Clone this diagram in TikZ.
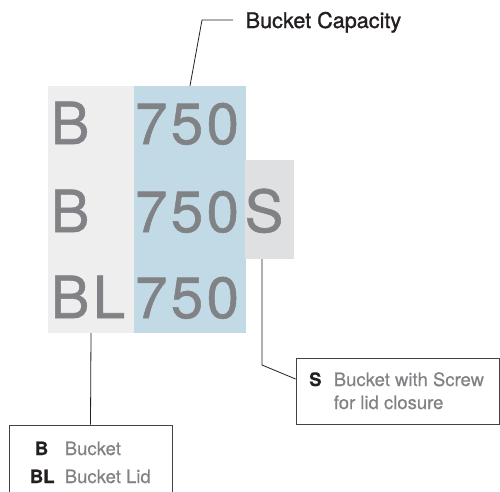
\documentclass[tikz,border=0pt]{standalone}
\usepackage{fontspec}
\setmainfont{TeX Gyre Heros}
\usetikzlibrary{positioning}

\definecolor{codegray}{HTML}{808285}
\definecolor{prefixbg}{HTML}{EEEEEE}
\definecolor{numberbg}{HTML}{C1DAE6}
\definecolor{suffixbg}{HTML}{DFE0E2}
\definecolor{inkdark}{HTML}{231F20}
\definecolor{legendgray}{HTML}{808285}

\begin{document}
\begin{tikzpicture}[x=1pt, y=-1pt,
  column/.style={rectangle, inner sep=0pt, draw=none},
  bigcode/.style={anchor=base west, inner sep=0pt, text=codegray,
    font=\fontsize{58}{60}\selectfont\addfontfeature{LetterSpace=6,FakeBold=0.9}},
  legendbox/.style={rectangle, draw=inkdark!85, line width=0.8pt, fill=white, inner sep=0pt},
  keyword/.style={anchor=base west, inner sep=0pt, text=inkdark, font=\fontsize{18.5}{22}\selectfont\bfseries\addfontfeature{FakeBold=0.5}},
  keytext/.style={anchor=base west, inner sep=0pt, text=legendgray, font=\fontsize{18.5}{22}\selectfont\addfontfeature{FakeBold=0.4}},
  leader/.style={draw=inkdark, line width=0.8pt}]
  \useasboundingbox (0,0) rectangle (500,491);

  % Columns of the code
  \node[column, fill=prefixbg, minimum width=86pt, minimum height=247pt] (pre) at (91,209.5) {};
  \node[column, fill=numberbg, minimum width=112pt, minimum height=247pt] (num) at (190,209.5) {};
  \node[column, fill=suffixbg, minimum width=49pt, minimum height=99pt] (suf) at (269.5,209.5) {};

  % Code letters
  \node[bigcode] (preA) at (50.5,144) {B};
  \node[bigcode] (numA) at (135,144) {750};
  \node[bigcode] (preB) at (50.5,232) {B};
  \node[bigcode] (numB) at (135,232) {750};
  \node[bigcode] (sufB) at (244.5,232) {S};
  \node[bigcode] (preC) at (50.5,318) {BL};
  \node[bigcode] (numC) at (135,318) {750};

  % Capacity label
  \node[anchor=base west, inner sep=0pt, text=inkdark, font=\fontsize{21.6}{24}\selectfont\addfontfeature{FakeBold=1.2}] (cap) at (245.5,28) {Bucket Capacity};
  \coordinate (capbend) at (202,20);
  \coordinate (capend) at (233,20);
  \draw[leader] (num.north) -- (capbend) -- (capend);

  % Screw legend
  \node[legendbox, minimum width=203pt, minimum height=66pt] (slegend) at (397.5,391) {};
  \node[keyword] (skey) at (309,386) {S};
  \node[keytext] (stext) at (333.6,386) {Bucket with Screw};
  \node[keytext] (stextb) at (333.6,409) {for lid closure};
  \coordinate (sbend) at (262,365);
  \draw[leader] ([xshift=-7.5pt]suf.south) -- (sbend) -- ([yshift=12pt]slegend.west);

  % Bucket legend
  \node[legendbox, minimum width=163pt, minimum height=70pt] (blegend) at (90.5,460) {};
  \node[keyword] (bkey) at (34.7,455) {B};
  \node[keytext] (btext) at (64.6,455) {Bucket};
  \node[keyword] (blkey) at (29.7,483) {BL};
  \node[keytext] (bltext) at (64.6,483) {Bucket Lid};
  \draw[leader] (pre.south) -- (blegend.north);
\end{tikzpicture}
\end{document}
